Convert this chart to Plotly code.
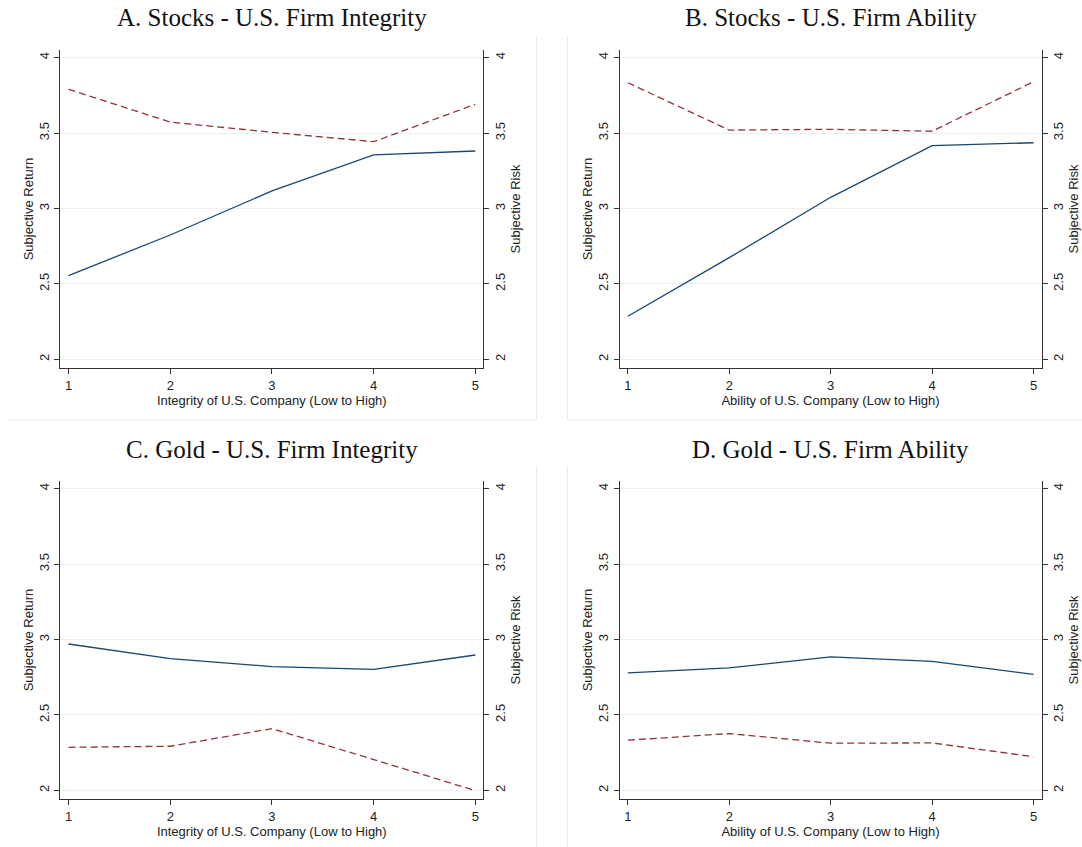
import plotly.graph_objects as go

# ---------------- data ----------------
x_levels = [1, 2, 3, 4, 5]

panel_titles = ["A. Stocks - U.S. Firm Integrity", "B. Stocks - U.S. Firm Ability",
                "C. Gold - U.S. Firm Integrity", "D. Gold - U.S. Firm Ability"]
x_labels = ["Integrity of U.S. Company (Low to High)", "Ability of U.S. Company (Low to High)",
            "Integrity of U.S. Company (Low to High)", "Ability of U.S. Company (Low to High)"]

a_return = [2.555, 2.824, 3.116, 3.355, 3.381]
a_risk = [3.790, 3.573, 3.505, 3.443, 3.691]
b_return = [2.285, 2.674, 3.074, 3.417, 3.436]
b_risk = [3.834, 3.520, 3.525, 3.512, 3.841]
c_return = [2.970, 2.873, 2.820, 2.802, 2.897]
c_risk = [2.285, 2.292, 2.409, 2.201, 1.998]
d_return = [2.778, 2.811, 2.884, 2.855, 2.769]
d_risk = [2.332, 2.376, 2.312, 2.314, 2.222]

y_ticks = [2, 2.5, 3, 3.5, 4]
y_ticktext = ["2", "2.5", "3", "3.5", "4"]

returns = [a_return, b_return, c_return, d_return]
risks = [a_risk, b_risk, c_risk, d_risk]

# ---------------- layout geometry (pixels) ----------------
W, H = 1082, 847
NAVY = "#1a476f"
MAROON = "#90353b"
AXC = "#333333"
GRID = "#e8f0f2"
FAINT = "#e4ecf0"
SANS = "Liberation Sans, Arial, sans-serif"
SERIF = "Liberation Serif, Times New Roman, serif"

col_px = [(60.3, 483.3), (619.6, 1041.5)]
row_px = [(50.0, 368.0), (481.0, 799.0)]
xr = [0.919, 5.078]
yr = [1.942, 4.051]

fig = go.Figure()
layout = dict(width=W, height=H, margin=dict(l=0, r=0, t=0, b=0),
              paper_bgcolor="white", plot_bgcolor="white", showlegend=False)
annotations = []

for i in range(4):
    r, c = divmod(i, 2)
    x0, x1 = col_px[c]
    top, bot = row_px[r]
    xd = [x0 / W, x1 / W]
    yd = [1 - bot / H, 1 - top / H]
    xid = i + 1
    yl = 2 * i + 1
    yrid = 2 * i + 2
    xname = "x" if xid == 1 else f"x{xid}"
    ylname = "y" if yl == 1 else f"y{yl}"
    yrname = f"y{yrid}"

    fig.add_trace(go.Scatter(x=x_levels, y=returns[i], mode="lines",
                             line=dict(color=NAVY, width=1.3),
                             xaxis=xname, yaxis=ylname, name="Subjective Return"))
    fig.add_trace(go.Scatter(x=x_levels, y=risks[i], mode="lines",
                             line=dict(color=MAROON, width=1.3, dash="7px,4px"),
                             xaxis=xname, yaxis=yrname, name="Subjective Risk"))

    tickfont = dict(family=SANS, size=13, color="#222222")
    titlefont = dict(family=SANS, size=13, color="#222222")
    layout[f"xaxis{xid if xid > 1 else ''}"] = dict(
        domain=xd, anchor=ylname, range=xr, tickvals=x_levels,
        ticktext=[str(v) for v in x_levels],
        showline=True, linecolor=AXC, linewidth=1, ticks="outside", ticklen=5,
        tickcolor=AXC, showgrid=False, zeroline=False, tickfont=tickfont,
        title=dict(text=x_labels[i], font=titlefont, standoff=2), fixedrange=True)
    layout[f"yaxis{yl if yl > 1 else ''}"] = dict(
        domain=yd, anchor=xname, range=yr, tickvals=y_ticks, ticktext=y_ticktext,
        tickangle=-90, showline=True, linecolor=AXC, linewidth=1, ticks="outside",
        ticklen=5, tickcolor=AXC, showgrid=True, gridcolor=GRID, gridwidth=1,
        zeroline=False, tickfont=tickfont,
        title=dict(text="Subjective Return", font=titlefont, standoff=0))
    layout[f"yaxis{yrid}"] = dict(
        overlaying=ylname, anchor=xname, side="right", range=yr, tickvals=y_ticks,
        ticktext=y_ticktext, tickangle=-90, showline=True, linecolor=AXC,
        linewidth=1, ticks="outside", ticklen=5, tickcolor=AXC, showgrid=False,
        zeroline=False, tickfont=tickfont,
        title=dict(text="Subjective Risk", font=titlefont, standoff=2))

    cap_center = 18 if r == 0 else 449.5
    annotations.append(dict(text=panel_titles[i], xref="paper", yref="paper",
                            x=(x0 + x1) / 2 / W, y=1 - cap_center / H,
                            xanchor="center", yanchor="middle", showarrow=False,
                            font=dict(family=SERIF, size=25, color="#111111")))

# faint frame lines of the combined-graph regions
shapes = []
def vline(x, y0, y1):
    shapes.append(dict(type="line", xref="paper", yref="paper", x0=x / W, x1=x / W,
                       y0=1 - y0 / H, y1=1 - y1 / H, line=dict(color=FAINT, width=1)))
def hline(y, x0, x1):
    shapes.append(dict(type="line", xref="paper", yref="paper", x0=x0 / W, x1=x1 / W,
                       y0=1 - y / H, y1=1 - y / H, line=dict(color=FAINT, width=1)))
vline(536.5, 36, 420)
vline(567.5, 36, 420)
vline(536.5, 467, 847)
vline(567.5, 467, 847)
hline(420, 8, 536.5)
hline(420, 567.5, 1082)

layout["annotations"] = annotations
layout["shapes"] = shapes
fig.update_layout(**layout)
fig.write_html("out.html")
